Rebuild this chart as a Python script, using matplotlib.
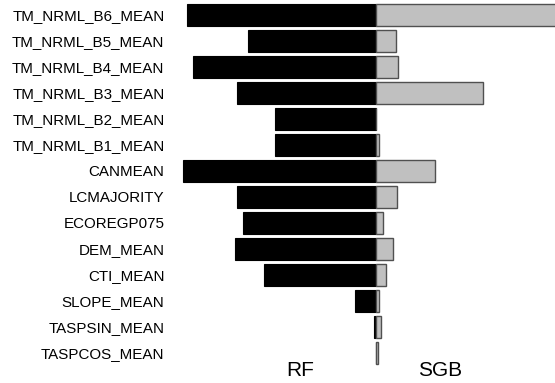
import matplotlib
matplotlib.use("Agg")
import matplotlib.pyplot as plt

plt.rcParams['font.family'] = ['Liberation Sans', 'DejaVu Sans']

variables = ["TM_NRML_B6_MEAN", "TM_NRML_B5_MEAN", "TM_NRML_B4_MEAN", "TM_NRML_B3_MEAN",
             "TM_NRML_B2_MEAN", "TM_NRML_B1_MEAN", "CANMEAN", "LCMAJORITY", "ECOREGP075",
             "DEM_MEAN", "CTI_MEAN", "SLOPE_MEAN", "TASPSIN_MEAN", "TASPCOS_MEAN"]
# relative importance (arbitrary units)
rf = [189, 128, 183, 139, 101, 101, 193, 139, 133, 141, 112, 21, 2.3, 0.5]
sgb = [210, 20, 22, 107, 0, 3, 59, 21, 7, 17, 10, 3, 5, 2]

W, H = 555, 383
fig = plt.figure(figsize=(W / 100, H / 100), dpi=100)
ax = fig.add_axes([170 / W, 0, 385 / W, 1])

pos = [15 + 26 * i for i in range(len(variables))]
ax.barh(pos, [-v for v in rf], height=22, color="black", edgecolor="black", linewidth=0.8)
ax.barh(pos, sgb, height=22, color="#c0c0c0", edgecolor="#505050", linewidth=1.0)

ax.set_xlim(-206, 179)
ax.set_ylim(H, 0)
ax.set_yticks(pos)
ax.set_yticklabels(variables, fontsize=10.9)
ax.tick_params(axis="y", length=0, pad=4)
ax.set_xticks([])
for s in ax.spines.values():
    s.set_visible(False)

ax.text(-76, 371, "RF", fontsize=15, ha="center", va="center")
ax.text(64, 371, "SGB", fontsize=15, ha="center", va="center")

fig.savefig("out.png", dpi=100)
